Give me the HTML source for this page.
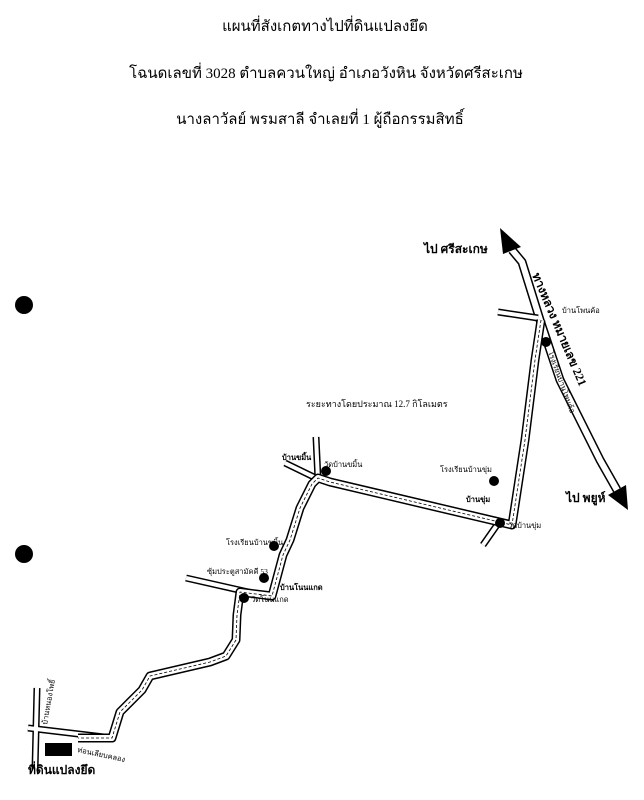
<!DOCTYPE html>
<html><head><meta charset="utf-8"><style>
body{margin:0;background:#fff;}
svg{display:block}
text{font-family:"Liberation Serif","Noto Serif CJK SC","Noto Sans CJK SC",serif;fill:#000}
.t{font-size:15px;text-anchor:middle}
.s{font-size:7.5px}
.b{font-size:12px;font-weight:bold}
</style></head><body>
<svg width="644" height="800" viewBox="0 0 644 800" xmlns="http://www.w3.org/2000/svg">
<text class="t" x="325" y="31">แผนที่สังเกตทางไปที่ดินแปลงยึด</text>
<text class="t" x="326" y="78">โฉนดเลขที่ 3028 ตำบลควนใหญ่ อำเภอวังหิน จังหวัดศรีสะเกษ</text>
<text class="t" x="320" y="124">นางลาวัลย์ พรมสาลี จำเลยที่ 1 ผู้ถือกรรมสิทธิ์</text>
<circle cx="24" cy="305" r="9"/><circle cx="24" cy="554" r="9"/>
<g fill="none" stroke-linejoin="round" stroke-linecap="butt">
<polyline points="512,250 522,262 540,320 560,380 600,460 617,490" stroke="#000" stroke-width="9"/>
<polyline points="512,250 522,262 540,320 560,380 600,460 617,490" stroke="#fff" stroke-width="6"/>
<g stroke="#000" stroke-width="7"><polyline points="498,312 538,318"/><polyline points="316,437 318,480"/><polyline points="285,463 320,480"/><polyline points="186,578 270,597"/><polyline points="37,688 35,770"/><polyline points="28,728 112,738"/><polyline points="497,525 483,545"/></g>
<g stroke="#fff" stroke-width="4"><polyline points="498,312 538,318"/><polyline points="316,437 318,480"/><polyline points="285,463 320,480"/><polyline points="186,578 270,597"/><polyline points="37,688 35,770"/><polyline points="28,728 112,738"/><polyline points="497,525 483,545"/></g>
<polyline points="541,320 535,360 525,440 512,525 330,482 318,478 312,484 300,508 290,540 283,555 272,596 240,592 237,615 236,640 226,656 210,662 150,676 142,690 120,712 112,738 78,738" stroke="#000" stroke-width="9"/>
<polyline points="541,320 535,360 525,440 512,525 330,482 318,478 312,484 300,508 290,540 283,555 272,596 240,592 237,615 236,640 226,656 210,662 150,676 142,690 120,712 112,738 78,738" stroke="#fff" stroke-width="6"/>
<polyline points="541,320 535,360 525,440 512,525 330,482 318,478 312,484 300,508 290,540 283,555 272,596 240,592 237,615 236,640 226,656 210,662 150,676 142,690 120,712 112,738 78,738" stroke="#000" stroke-width="0.8" stroke-dasharray="3,2"/>
</g>
<polygon points="500,228 521,247 503,254" fill="#000"/>
<polygon points="628,510 626,485 608,495" fill="#000"/>
<g fill="#000"><circle cx="546" cy="342" r="5"/><circle cx="494" cy="481" r="5"/><circle cx="500" cy="523" r="5"/><circle cx="326" cy="471" r="5"/><circle cx="274" cy="546" r="5"/><circle cx="264" cy="578" r="5"/><circle cx="244" cy="598" r="5"/></g>
<rect x="45" y="743" width="27" height="13" fill="#000"/>
<text class="b" x="424" y="253">ไป ศรีสะเกษ</text>
<text class="b" x="566" y="502">ไป พยูห์</text>
<text class="b" x="532" y="275" transform="rotate(67 532 275)" font-size="11">ทางหลวง หมายเลข 221</text>
<text class="s" x="562" y="313">บ้านโพนค้อ</text>
<text class="s" x="548" y="352" transform="rotate(70 548 352)">โรงเรียนบ้านโพนค้อ</text>
<text x="306" y="407" font-size="9">ระยะทางโดยประมาณ 12.7 กิโลเมตร</text>
<text class="s" x="440" y="472">โรงเรียนบ้านขุ่ม</text>
<text class="s" x="466" y="502" font-weight="bold">บ้านขุ่ม</text>
<text class="s" x="508" y="528">วัดบ้านขุ่ม</text>
<text class="s" x="282" y="460" font-weight="bold">บ้านขมิ้น</text>
<text class="s" x="324" y="467">วัดบ้านขมิ้น</text>
<text class="s" x="226" y="545">โรงเรียนบ้านขมิ้น</text>
<text class="s" x="207" y="574">ซุ้มประตูสามัคคี 53</text>
<text class="s" x="280" y="590" font-weight="bold">บ้านโนนแกด</text>
<text class="s" x="251" y="602">วัดโนนแกด</text>
<text class="s" x="47" y="725" transform="rotate(-80 47 725)">บ้านหนองโพธิ์</text>
<text class="s" x="77" y="752" transform="rotate(12 77 752)">ท่อนเลียบคลอง</text>
<text class="b" x="28" y="774">ที่ดินแปลงยึด</text>
</svg>
</body></html>
